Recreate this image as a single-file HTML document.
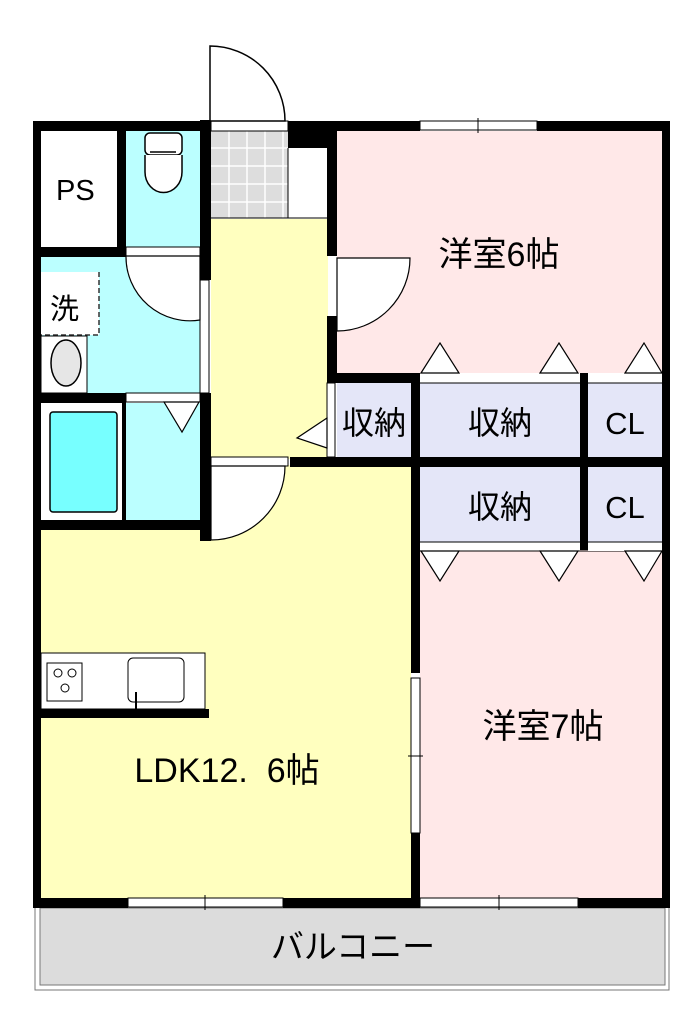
<!DOCTYPE html>
<html><head><meta charset="utf-8"><style>body{margin:0;background:#fff}svg{display:block}text{font-family:"Liberation Sans","Noto Sans CJK JP",sans-serif;fill:#000}</style></head><body>
<svg width="700" height="1035" viewBox="0 0 700 1035" xmlns="http://www.w3.org/2000/svg">
<rect x="35" y="905" width="634" height="85" fill="#fff" stroke="#777" stroke-width="1"/>
<rect x="40" y="908" width="625" height="77" fill="#dcdcdc" stroke="#777" stroke-width="1"/>
<text x="353" y="958" font-size="33" text-anchor="middle">バルコニー</text>
<rect x="211" y="219" width="117" height="240" fill="#ffffbf"/>
<path d="M211 465 H411 V899 H41 V530 H211 Z" fill="#ffffbf"/>
<rect x="41" y="131" width="76" height="116" fill="#fff"/>
<rect x="126" y="131" width="77" height="116" fill="#bff"/>
<rect x="41" y="257" width="162" height="137" fill="#bff"/>
<rect x="126" y="403" width="77" height="117" fill="#bff"/>
<rect x="41" y="403" width="82" height="117" fill="#fff"/>
<rect x="50" y="412" width="67" height="100" rx="3" fill="#7ff" stroke="#000" stroke-width="1.5"/>
<rect x="337" y="131" width="326" height="243" fill="#ffe8e8"/>
<rect x="420" y="550" width="243" height="349" fill="#ffe8e8"/>
<rect x="337" y="383" width="74" height="74" fill="#e4e6f8"/>
<rect x="420" y="383" width="160" height="74" fill="#e4e6f8"/>
<rect x="588" y="383" width="75" height="74" fill="#e4e6f8"/>
<rect x="420" y="467" width="160" height="75" fill="#e4e6f8"/>
<rect x="588" y="467" width="75" height="75" fill="#e4e6f8"/>
<rect x="211" y="131" width="77" height="87" fill="#ddd"/>
<g stroke="#fff" stroke-width="1.5">
<line x1="229" y1="131" x2="229" y2="218"/><line x1="247" y1="131" x2="247" y2="218"/><line x1="265" y1="131" x2="265" y2="218"/><line x1="283" y1="131" x2="283" y2="218"/>
<line x1="211" y1="148" x2="288" y2="148"/><line x1="211" y1="166" x2="288" y2="166"/><line x1="211" y1="184" x2="288" y2="184"/><line x1="211" y1="202" x2="288" y2="202"/>
</g>
<line x1="211" y1="218" x2="327" y2="218" stroke="#000" stroke-width="1"/>
<line x1="288" y1="148" x2="288" y2="218" stroke="#000" stroke-width="1"/>
<g fill="#000">
<rect x="33" y="121" width="178" height="10"/>
<rect x="288" y="121" width="49" height="10"/>
<rect x="288" y="121" width="40" height="27"/>
<rect x="337" y="121" width="83" height="10"/>
<rect x="537" y="121" width="133" height="10"/>
<rect x="33" y="121" width="8" height="787"/>
<rect x="662" y="121" width="8" height="787"/>
<rect x="33" y="898" width="95" height="10"/>
<rect x="283" y="898" width="137" height="10"/>
<rect x="578" y="898" width="92" height="10"/>
<rect x="117" y="121" width="9" height="136"/>
<rect x="33" y="247" width="93" height="10"/>
<rect x="200" y="120" width="11" height="160"/>
<rect x="200" y="393" width="11" height="148"/>
<rect x="33" y="393" width="93" height="10"/>
<rect x="122" y="393" width="4" height="137"/>
<rect x="33" y="520" width="178" height="10"/>
<rect x="327" y="121" width="10" height="135"/>
<rect x="327" y="316" width="10" height="67"/>
<rect x="327" y="373" width="336" height="10"/>
<rect x="290" y="457" width="380" height="10"/>
<rect x="411" y="373" width="9" height="300"/>
<rect x="411" y="833" width="9" height="75"/>
<rect x="580" y="373" width="8" height="177"/>
<rect x="33" y="709" width="176" height="9"/>
</g>
<g fill="#fff" stroke="#000" stroke-width="1">
<rect x="420" y="121" width="117" height="9"/><line x1="478" y1="118" x2="478" y2="133"/>
<rect x="128" y="898" width="155" height="9"/><line x1="205" y1="895" x2="205" y2="910"/>
<rect x="420" y="898" width="158" height="9"/><line x1="499" y1="895" x2="499" y2="910"/>
<rect x="411" y="678" width="9" height="155"/><line x1="408" y1="756" x2="423" y2="756"/>
<rect x="211" y="121" width="77" height="10"/>
<rect x="126" y="247" width="74" height="9"/>
<rect x="200" y="280" width="9" height="113"/>
<rect x="126" y="393" width="74" height="9"/>
<rect x="211" y="457" width="77" height="9"/>
<rect x="327" y="383" width="8" height="74"/>
<rect x="420" y="373" width="160" height="10" stroke="none"/><line x1="420" y1="383" x2="580" y2="383"/>
<rect x="588" y="373" width="74" height="10" stroke="none"/><line x1="588" y1="383" x2="662" y2="383"/>
<rect x="420" y="542" width="160" height="9" stroke="none"/><line x1="420" y1="542" x2="580" y2="542"/><line x1="420" y1="551" x2="662" y2="551"/>
<rect x="588" y="542" width="74" height="9" stroke="none"/><line x1="588" y1="542" x2="662" y2="542"/>
</g>
<g fill="#fff" stroke="#000" stroke-width="1.5">
<path d="M210 121 V46 A75 75 0 0 1 285 121 Z"/>
<path d="M126 256 H200 V320 A64 64 0 0 1 126 256 Z" stroke-width="1.2"/>
<path d="M337 258 H410 A73 73 0 0 1 337 331 Z" stroke-width="1.2"/>
<path d="M211 466 H285 A74 74 0 0 1 211 540 Z" stroke-width="1.2"/>
<path d="M164 402 H199 L182 432 Z" stroke-width="1.2"/>
<path d="M327 418 V448 L297 438 Z" stroke-width="1.2"/>
<path d="M421 373 L440 343 L459 373 Z" stroke-width="1.2"/>
<path d="M540 373 L559 343 L578 373 Z" stroke-width="1.2"/>
<path d="M625 373 L644 343 L662 373 Z" stroke-width="1.2"/>
<path d="M421 551 L440 581 L459 551 Z" stroke-width="1.2"/>
<path d="M540 551 L559 581 L578 551 Z" stroke-width="1.2"/>
<path d="M625 551 L644 581 L662 551 Z" stroke-width="1.2"/>
</g>
<rect x="145" y="133" width="37" height="22" rx="5" fill="#fff" stroke="#000" stroke-width="1.5"/>
<line x1="150" y1="152" x2="176" y2="152" stroke="#000" stroke-width="1.5"/>
<path d="M145 155 V172 A18 20 0 0 0 182 172 V155" fill="#fff" stroke="#000" stroke-width="1.5"/>
<rect x="41" y="272" width="58" height="63" fill="#fff"/>
<path d="M99 272 V335 H41" fill="none" stroke="#333" stroke-width="1.5" stroke-dasharray="5,3"/>
<text x="50" y="319" font-size="29">洗</text>
<rect x="41" y="336" width="46" height="57" fill="#fff" stroke="#000" stroke-width="1"/>
<ellipse cx="66" cy="363" rx="15" ry="23" fill="#e6e6e6" stroke="#000" stroke-width="1.5"/>
<rect x="41" y="653" width="164" height="56" fill="#fff" stroke="#000" stroke-width="1"/>
<rect x="47" y="663" width="35" height="38" fill="#fff" stroke="#000" stroke-width="1"/>
<circle cx="58" cy="673" r="4" fill="none" stroke="#000"/><circle cx="72" cy="673" r="4" fill="none" stroke="#000"/><circle cx="65" cy="688" r="4" fill="none" stroke="#000"/>
<rect x="128" y="658" width="56" height="44" rx="5" fill="#fff" stroke="#000" stroke-width="1"/>
<line x1="136" y1="692" x2="136" y2="709" stroke="#000" stroke-width="2"/>
<text x="56" y="200" font-size="29">PS</text>
<text x="499" y="266" font-size="34" text-anchor="middle">洋室6帖</text>
<text x="374" y="434" font-size="32" text-anchor="middle">収納</text>
<text x="500" y="434" font-size="32" text-anchor="middle">収納</text>
<text x="625" y="434" font-size="31" text-anchor="middle">CL</text>
<text x="500" y="518" font-size="32" text-anchor="middle">収納</text>
<text x="625" y="518" font-size="31" text-anchor="middle">CL</text>
<text x="543" y="738" font-size="34" text-anchor="middle">洋室7帖</text>
<text x="227" y="782" font-size="34" text-anchor="middle">LDK12.&#160;&#160;6帖</text>
</svg>
</body></html>
